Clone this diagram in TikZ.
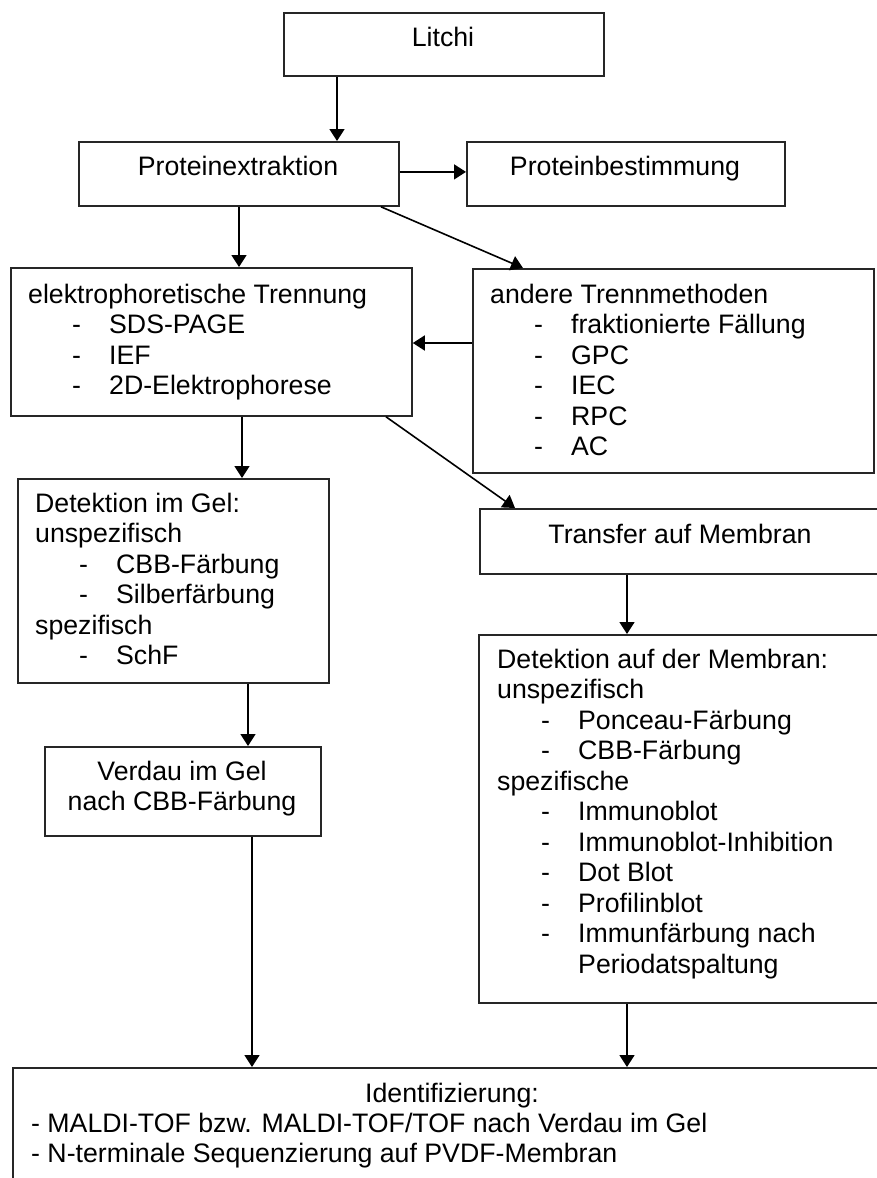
\documentclass[tikz,border=0pt]{standalone}
\usepackage{fontspec}
\setmainfont{Liberation Sans}
\usetikzlibrary{arrows.meta}
\newcommand{\Lrow}[1]{\hbox{#1}}
\newcommand{\Lsub}[1]{\hbox{\hspace*{44pt}\makebox[37pt][l]{-}#1}}
\newcommand{\Lcont}[1]{\hbox{\hspace*{81pt}#1}}
\tikzset{
  box/.style={draw=black!85, line width=1.8pt, rectangle, inner sep=0pt, anchor=north west},
  arr/.style={draw=black, line width=1.6pt, -{Triangle[length=12pt,width=15pt]}},
  txt/.style={inner sep=0pt, text=black, font=\fontsize{26.7}{30.5}\selectfont},
}
\begin{document}
\begin{tikzpicture}[x=1pt,y=-1pt]
\useasboundingbox (0,0) rectangle (877,1178);
\clip (0,0) rectangle (877,1178);
\fill[white] (0,0) rectangle (877,1178);
% boxes
\node[box, minimum width=320pt, minimum height=63pt] (lit) at (283,12) {};
\node[box, minimum width=320pt, minimum height=64pt] (pe) at (78,141) {};
\node[box, minimum width=318pt, minimum height=64pt] (pb) at (466,141) {};
\node[box, minimum width=401pt, minimum height=148pt] (el) at (10,267) {};
\node[box, minimum width=401pt, minimum height=204pt] (an) at (472,268) {};
\node[box, minimum width=311pt, minimum height=204pt] (gel) at (17,478) {};
\node[box, minimum width=402pt, minimum height=65pt] (tr) at (479,508) {};
\node[box, minimum width=276pt, minimum height=89pt] (ver) at (44,746) {};
\node[box, minimum width=403pt, minimum height=368pt] (mem) at (478,634) {};
\node[box, minimum width=880pt, minimum height=140pt] (id) at (12,1067) {};
% texts
\node[txt, anchor=base] (tlit) at (443,46) {Litchi};
\node[txt, anchor=base] (tpe) at (238,175) {Proteinextraktion};
\node[txt, anchor=base] (tpb) at (625,175) {Proteinbestimmung};
\node[txt, anchor=base west] (tel) at (28,303) {\vtop{%
  \Lrow{elektrophoretische Trennung}
  \Lsub{SDS-PAGE}
  \Lsub{IEF}
  \Lsub{2D-Elektrophorese}}};
\node[txt, anchor=base west] (tan) at (490,303) {\vtop{%
  \Lrow{andere Trennmethoden}
  \Lsub{fraktionierte Fällung}
  \Lsub{GPC}
  \Lsub{IEC}
  \Lsub{RPC}
  \Lsub{AC}}};
\node[txt, anchor=base west] (tgel) at (35,512) {\vtop{%
  \Lrow{Detektion im Gel:}
  \Lrow{unspezifisch}
  \Lsub{CBB-Färbung}
  \Lsub{Silberfärbung}
  \Lrow{spezifisch}
  \Lsub{SchF}}};
\node[txt, anchor=base] (ttr) at (680,543) {Transfer auf Membran};
\node[txt, anchor=base] (tver) at (182,780) {\vtop{\halign{\hfil#\hfil\cr
  Verdau im Gel\cr nach CBB-Färbung\cr}}};
\node[txt, anchor=base west] (tmem) at (497,668) {\vtop{%
  \Lrow{Detektion auf der Membran:}
  \Lrow{unspezifisch}
  \Lsub{Ponceau-Färbung}
  \Lsub{CBB-Färbung}
  \Lrow{spezifische}
  \Lsub{Immunoblot}
  \Lsub{Immunoblot-Inhibition}
  \Lsub{Dot Blot}
  \Lsub{Profilinblot}
  \Lsub{Immunfärbung nach}
  \Lcont{Periodatspaltung}}};
\node[txt, anchor=base] (tid) at (452,1102) {Identifizierung:};
\node[txt, anchor=base west] (tidl) at (31,1132) {\vtop{%
  \Lrow{- MALDI-TOF bzw. MALDI-TOF/TOF nach Verdau im Gel}
  \Lrow{- N-terminale Sequenzierung auf PVDF-Membran}}};
% connectors
\draw[arr] ([xshift=54pt]lit.south west) -- ([xshift=259pt]pe.north west);
\draw[arr] ([yshift=2pt]pe.east) -- ([yshift=2pt]pb.west);
\draw[arr] ([xshift=161pt]pe.south west) -- ([xshift=229pt]el.north west);
\draw[arr] ([xshift=303pt]pe.south west) -- ([xshift=51pt]an.north west);
\coordinate (a5) at ([yshift=-75pt]an.north west);
\draw[arr] (a5) -- (el.east |- a5);
\draw[arr] ([xshift=232pt]el.south west) -- ([xshift=225pt]gel.north west);
\draw[arr] ([xshift=376pt]el.south west) -- ([xshift=36pt]tr.north west);
\draw[arr] ([xshift=231pt]gel.south west) -- ([xshift=204pt]ver.north west);
\draw[arr] ([xshift=148pt]tr.south west) -- ([xshift=149pt]mem.north west);
\draw[arr] ([xshift=208pt]ver.south west) -- ([xshift=240pt]id.north west);
\draw[arr] ([xshift=149pt]mem.south west) -- ([xshift=615pt]id.north west);
\end{tikzpicture}
\end{document}
